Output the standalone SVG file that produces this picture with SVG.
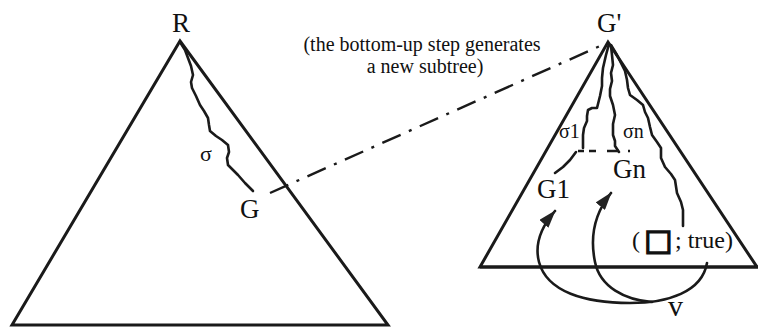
<svg xmlns="http://www.w3.org/2000/svg" width="758" height="327" viewBox="0 0 758 327">
<style>
.tri{fill:none;stroke:#1a1a1a;stroke-width:3;stroke-linejoin:miter}
.wave{fill:none;stroke:#1a1a1a;stroke-width:2.6;stroke-linejoin:round;stroke-linecap:round}
.arc{fill:none;stroke:#1a1a1a;stroke-width:2.6;stroke-linecap:round}
.dash{fill:none;stroke:#1a1a1a;stroke-width:2.4;stroke-dasharray:20 9 3 9}
.lbl{font-family:"Liberation Serif","Times New Roman",serif;fill:#111}
</style>
<defs>
<marker id="ahb" viewBox="0 0 18 12" refX="17" refY="6" markerWidth="18" markerHeight="12" markerUnits="userSpaceOnUse" orient="auto">
<path d="M0,0 L18,6 L0,12 z" fill="#222"/>
</marker>
</defs>
<g id="tree-left">
<path class="tri" d="M180,41 L388,325 L12,325 Z"/>
<text class="lbl" x="181" y="32" font-size="27" text-anchor="middle">R</text>
</g>
<g id="node-G">
<text class="lbl" x="240" y="218" font-size="27">G</text>
</g>
<g id="tree-right">
<path class="tri" d="M608,42 L757,267 L480,267 Z"/>
<line x1="480" y1="267" x2="758" y2="267" stroke="#1a1a1a" stroke-width="3"/>
<text class="lbl" x="597" y="32" font-size="27">G'</text>
</g>
<g id="node-G1">
<text class="lbl" x="537" y="198" font-size="27">G1</text>
</g>
<g id="node-Gn">
<text class="lbl" x="613" y="178" font-size="27">Gn</text>
</g>
<g id="node-true">
<text class="lbl" y="248" font-size="24"><tspan x="632">(</tspan><tspan x="644" y="250" font-family="DejaVu Sans, sans-serif" font-size="30" stroke="#111" stroke-width="1.6">□</tspan><tspan x="675" y="248">; true)</tspan></text>
</g>
<g id="node-v">
<text class="lbl" x="668" y="316" font-size="30">v</text>
</g>
<g id="caption">
<text class="lbl" font-size="20" text-anchor="middle"><tspan x="422" y="51">(the bottom-up step generates</tspan><tspan x="425" y="73">a new subtree)</tspan></text>
</g>
<g id="connectors">
<path class="wave" d="M180,42 L185,50 L188,58 L191,66 L193,75 L191,82 L192,88 L196,96 L200,105 L204,111 L208,118 L209,125 L210,131 L216,136 L222,140 L228,145 L229,152 L227,158 L228,165 L233,170 L238,175 L245,183 L253,191"/>
<text class="lbl" x="200" y="161" font-size="22">σ</text>
<path class="dash" d="M270,193 L600,46"/>
<path class="wave" d="M609,44 L606,55 L603,68 L602,78 L602,86 L600,96 L597,108 L592,108 L588,110 L587,116 L587,121 L584,128 L583,135 L583,148"/>
<path class="wave" d="M611,46 L612,55 L613,65 L611,73 L612,81 L610,89 L610,96 L613,105 L615,115 L613,124 L613,135 L615,141 L615,146 L619,152"/>
<path class="wave" d="M611,45 L617,55 L625,71 L627,80 L628,88 L630,95 L637,100 L643,105 L645,112 L648,118 L650,127 L652,135 L657,142 L661,148 L661,158 L665,167 L671,174 L675,180 L677,193 L681,202 L683,210 L683,226"/>
<path class="wave" d="M576,152 L570,160 L563,167 L555,173"/>
<path fill="none" stroke="#1a1a1a" stroke-width="2.4" stroke-dasharray="6 5 7 11 12 9 2" d="M578,151 L632,151"/>
<text class="lbl" x="559" y="138" font-size="20">σ1</text>
<text class="lbl" x="623" y="138" font-size="20">σn</text>
<path class="arc" marker-end="url(#ahb)" d="M707,263 C702,292 668,303 630,303 C585,303 547,292 539,262 C534,243 542,226 555,211"/>
<path class="arc" marker-end="url(#ahb)" d="M652,302 C625,300 600,287 595,262 C590,238 594,214 611,193"/>
</g>
</svg>
